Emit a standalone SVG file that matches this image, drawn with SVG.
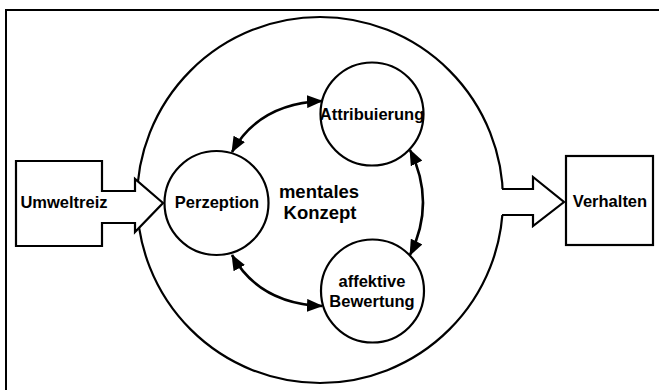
<svg xmlns="http://www.w3.org/2000/svg" width="659" height="390" viewBox="0 0 659 390">
<defs>
<style>
.t{font-family:"Liberation Sans",Arial,sans-serif;font-weight:bold;font-size:16.5px;fill:#000;text-anchor:middle}
.n{fill:#fff;stroke:#000;stroke-width:2.2}
.c{fill:none;stroke:#000;stroke-width:2.6}
.o{fill:none;stroke:#000;stroke-width:2.2;stroke-linejoin:miter}
</style>
<marker id="ah" markerUnits="userSpaceOnUse" markerWidth="16" markerHeight="13" refX="15" refY="6.5" orient="auto-start-reverse">
<path d="M0,0 L16,6.5 L0,13 z" fill="#000"/>
</marker>
</defs>
<rect x="0" y="0" width="659" height="390" fill="#fff"/>
<rect x="6" y="10" width="700" height="420" fill="none" stroke="#000" stroke-width="2"/>
<g id="mentales-konzept">
<circle cx="320" cy="200" r="183" class="o" stroke-width="2.6"/>
<text class="t" x="319" y="198" style="font-size:18.5px">mentales</text>
<text class="t" x="320" y="219" style="font-size:18.5px">Konzept</text>
</g>
<g id="umweltreiz">
<polygon points="16,161 102,161 102,191 135,191 135,179 163,203 135,232 135,223 102,223 102,246 16,246" class="n"/>
<text class="t" x="64" y="208">Umweltreiz</text>
</g>
<g id="verhalten">
<rect x="566" y="156" width="87" height="89" class="n"/>
<text class="t" x="610" y="207">Verhalten</text>
</g>
<g id="verhalten-pfeil">
<polygon points="500,189 533,189 533,177 564,202 533,226 533,215 500,215" fill="#fff" stroke="none"/>
<polyline points="502,189 533,189 533,177 564,202 533,226 533,215 502,215" class="o"/>
</g>
<g id="perzeption">
<circle cx="216.5" cy="203" r="52" class="n"/>
<text class="t" x="217" y="208">Perzeption</text>
</g>
<g id="attribuierung">
<circle cx="372" cy="114" r="51.5" class="n"/>
<text class="t" x="372" y="120">Attribuierung</text>
</g>
<g id="affektive-bewertung">
<circle cx="372.5" cy="291" r="51.5" class="n"/>
<text class="t" x="372" y="287">affektive</text>
<text class="t" x="372" y="307">Bewertung</text>
</g>
<g id="connectors">
<path d="M232,152 Q259,103.5 322,101" class="c" marker-start="url(#ah)" marker-end="url(#ah)"/>
<path d="M232,255 Q259,303.5 322,306" class="c" marker-start="url(#ah)" marker-end="url(#ah)"/>
<path d="M410,150 Q436,202.5 410,255" class="c" marker-start="url(#ah)" marker-end="url(#ah)"/>
</g>
</svg>
